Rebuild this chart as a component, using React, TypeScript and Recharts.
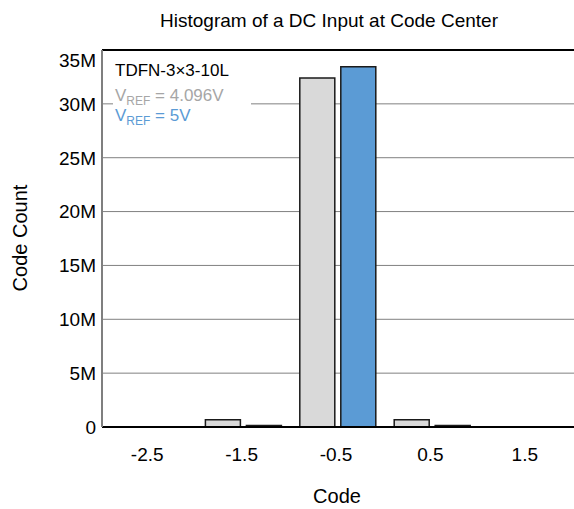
import React from 'react';
import { BarChart, Bar, XAxis, YAxis, CartesianGrid, ReferenceLine } from 'recharts';

// Histogram bins (output code relative to the code center)
const codes = ['-2.5', '-1.5', '-0.5', '0.5', '1.5'];
// Hit counts per bin for each reference voltage
const countsVref4096 = [null, 0.68e6, 32.4e6, 0.68e6, null];
const countsVref5 = [null, 0.15e6, 33.45e6, 0.15e6, null];
// Y-axis ticks
const yTicks = [0, 5e6, 10e6, 15e6, 20e6, 25e6, 30e6, 35e6];

const FONT = '"Liberation Sans", Arial, sans-serif';
const GRAY = '#d9d9d9';
const BLUE = '#5b9bd5';

const data = codes.map((code, i) => ({
  code,
  vref4096: countsVref4096[i],
  vref5: countsVref5[i],
}));

const formatCount = (v: number) => (v === 0 ? '0' : `${v / 1e6}M`);

const YTick = (props: any) => {
  const { x, y, payload } = props;
  const v = payload.value as number;
  const shift = v === 35e6 ? 10 : 0;
  return (
    <text x={x} y={y + shift} dy="0.36em" textAnchor="end" fontSize={19} fill="#000" fontFamily={FONT}>
      {formatCount(v)}
    </text>
  );
};

const XTick = (props: any) => {
  const { x, y, payload } = props;
  return (
    <text x={x - 2} y={y} dy="0.71em" textAnchor="middle" fontSize={19} fill="#000" fontFamily={FONT}>
      {payload.value}
    </text>
  );
};

export default function App() {
  return (
    <div style={{ position: 'absolute', left: 0, top: 0, width: 574, height: 509, background: '#fff' }}>
      <BarChart
        width={574}
        height={509}
        data={data}
        margin={{ top: 50, right: 0, bottom: 0, left: 0 }}
        barSize={35}
        barGap={6}
      >
        <CartesianGrid horizontal vertical={false} stroke="#808080" strokeWidth={1} />
        <XAxis
          dataKey="code"
          height={82}
          axisLine={{ stroke: '#000', strokeWidth: 2 }}
          tickLine={false}
          tick={<XTick />}
          tickMargin={15}
          interval={0}
        />
        <YAxis
          width={102}
          domain={[0, 35e6]}
          ticks={yTicks}
          interval={0}
          axisLine={{ stroke: '#7f7f7f', strokeWidth: 2 }}
          tickLine={false}
          tickSize={4}
          tickMargin={2}
          tick={<YTick />}
        />
        <ReferenceLine y={35e6} stroke="#000" strokeWidth={2} />
        <Bar dataKey="vref4096" fill={GRAY} stroke="#1a1a1a" strokeWidth={1.5} isAnimationActive={false} />
        <Bar dataKey="vref5" fill={BLUE} stroke="#1a1a1a" strokeWidth={1.5} isAnimationActive={false} />
      </BarChart>
      <svg
        width={574}
        height={509}
        style={{ position: 'absolute', left: 0, top: 0, pointerEvents: 'none' }}
        fontFamily={FONT}
      >
        <text x={329} y={27} textAnchor="middle" fontSize={19} fill="#000">
          Histogram of a DC Input at Code Center
        </text>
        <text
          x={0}
          y={0}
          transform="translate(27,238) rotate(-90)"
          textAnchor="middle"
          fontSize={20}
          fill="#000"
        >
          Code Count
        </text>
        <text x={337} y={503} textAnchor="middle" fontSize={20} fill="#000">
          Code
        </text>
        <rect x={113} y={56} width={138} height={68} fill="#fff" />
        <text x={115} y={76} fontSize={17} fill="#000">
          TDFN-3×3-10L
        </text>
        <text x={115} y={101} fontSize={17} fill="#a6a6a6">
          V<tspan fontSize={12} dy={4}>REF</tspan>
          <tspan dy={-4}> = 4.096V</tspan>
        </text>
        <text x={115} y={121} fontSize={17} fill={BLUE}>
          V<tspan fontSize={12} dy={4}>REF</tspan>
          <tspan dy={-4}> = 5V</tspan>
        </text>
      </svg>
    </div>
  );
}
